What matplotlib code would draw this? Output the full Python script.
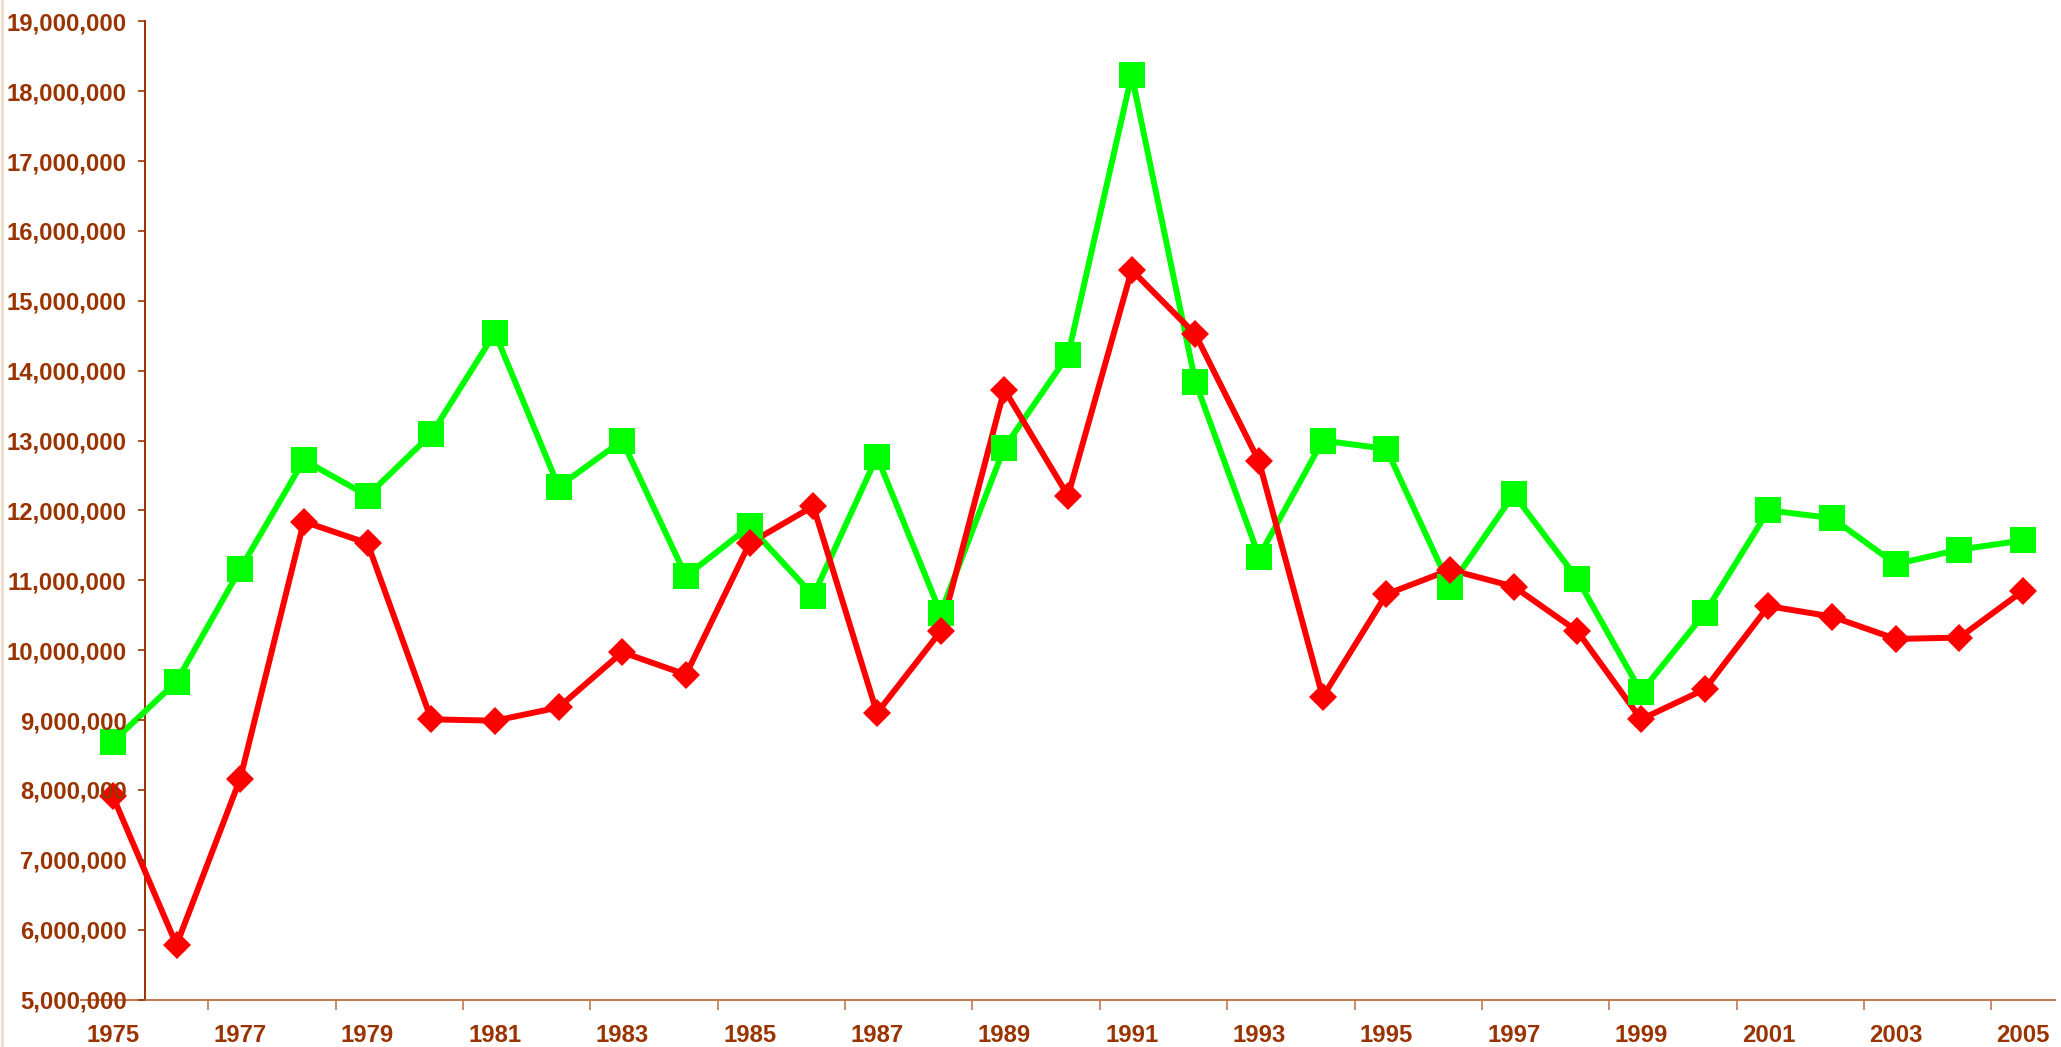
import matplotlib
matplotlib.use('Agg')
import matplotlib.pyplot as plt
from matplotlib.ticker import FuncFormatter
from matplotlib.lines import Line2D
import numpy as np

years = list(range(1975, 2006))
green_vals = [8.69, 9.55, 11.16, 12.72, 12.21, 13.09, 14.54, 12.34, 13.00, 11.06,
              11.77, 10.78, 12.77, 10.53, 12.90, 14.22, 18.23, 13.84, 11.34, 13.00,
              12.88, 10.91, 12.23, 11.02, 9.40, 10.53, 12.00, 11.89, 11.23, 11.44,
              11.57]
red_vals = [7.91, 5.78, 8.16, 11.84, 11.53, 9.01, 8.99, 9.18, 9.97, 9.65,
            11.53, 12.06, 9.10, 10.27, 13.73, 12.21, 15.44, 14.52, 12.70, 9.33,
            10.80, 11.15, 10.91, 10.27, 9.01, 9.44, 10.63, 10.48, 10.16, 10.18,
            10.85]
year_labels = [str(y) for y in years[::2]]

brown = '#993300'
axis_light = '#C07850'

fig = plt.figure(figsize=(20.61, 10.47), dpi=100)
W, H = 2061, 1047
ax = fig.add_axes([81 / W, 1 - 999.5 / H, (2055 - 81) / W, (999.5 - 21.3) / H])

green = np.array(green_vals) * 1e6
red = np.array(red_vals) * 1e6

# lines first, then markers on top (like the original)
ax.plot(years, green, color='#00FF00', linewidth=4.3, zorder=3, clip_on=False)
ax.plot(years, red, color='#FF0000', linewidth=4.3, zorder=3.1, clip_on=False)
ax.plot(years, green, linestyle='none', color='#00FF00', marker='s',
        markersize=18.5, markeredgewidth=0, zorder=4, clip_on=False)
ax.plot(years, red, linestyle='none', color='#FF0000', marker='D',
        markersize=14.3, markeredgewidth=0, zorder=4.1, clip_on=False)

ax.set_xlim(1974.5, 2005.5)
ax.set_ylim(5e6, 19e6)

for s in ['top', 'right']:
    ax.spines[s].set_visible(False)
ax.spines['left'].set_position(('data', 1975.5))
ax.spines['left'].set_color(brown)
ax.spines['left'].set_linewidth(1.4)
ax.spines['bottom'].set_color(axis_light)
ax.spines['bottom'].set_linewidth(1.4)

ax.set_yticks(np.arange(5e6, 19e6 + 1, 1e6))
ax.yaxis.set_major_formatter(FuncFormatter(lambda v, p: f'{int(v):,}'))
ax.tick_params(axis='y', direction='out', length=5, width=1.2, color=brown,
               pad=8, labelsize=17.2, labelcolor=brown)

ax.set_xticks(years[::2])
ax.set_xticklabels(year_labels)
ax.set_xticks(np.arange(1976.5, 2005, 2), minor=True)
ax.tick_params(axis='x', which='major', length=0, pad=18, labelsize=17.2,
               labelcolor=brown)
ax.tick_params(axis='x', which='minor', direction='out', length=7, width=1.2,
               color=axis_light)

for lab in ax.get_xticklabels() + ax.get_yticklabels():
    lab.set_fontfamily('Liberation Sans')
    lab.set_fontweight('bold')

# tick labels sit above the first markers
ax.yaxis.set_zorder(6)

fig.add_artist(Line2D([1.5 / W, 1.5 / W], [0, 1], color='#F0DCC8', linewidth=2,
                      transform=fig.transFigure))

plt.savefig('out.png', dpi=100)
plt.close()
